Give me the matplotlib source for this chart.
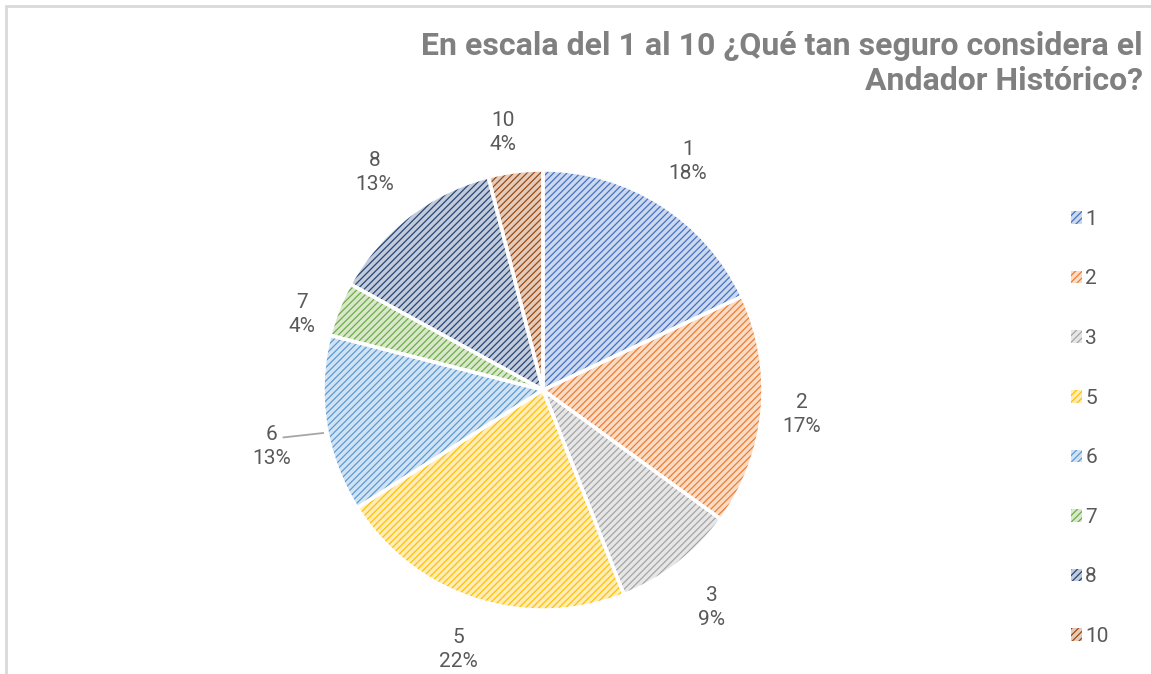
import numpy as np
import matplotlib.pyplot as plt
from matplotlib.patches import Patch, Rectangle

# datos
categories = ["1", "2", "3", "5", "6", "7", "8", "10"]
percents = [18, 17, 9, 22, 13, 4, 13, 4]
base_colors = ["#4472C4", "#ED7D31", "#A5A5A5", "#FFC000",
               "#5B9BD5", "#70AD47", "#264478", "#9E480E"]
title = "En escala del 1 al 10 ¿Qué tan seguro considera el\nAndador Histórico?"


def lighten(hex_color, amount=0.72):
    c = np.array([int(hex_color[i:i + 2], 16) for i in (1, 3, 5)]) / 255
    return tuple(c + (1 - c) * amount)


plt.rcParams["hatch.linewidth"] = 0.9
fill_colors = [lighten(c) for c in base_colors]
text_color = "#595959"
font = "Roboto"

W, H = 1151, 674
fig = plt.figure(figsize=(W / 100, H / 100), dpi=100)

# marco del area del grafico
fig.patches.append(Rectangle((6 / W, -0.1), 1.2, 1 - 6 / H + 0.1, transform=fig.transFigure,
                             fill=False, edgecolor="#D9D9D9", linewidth=2))

cx, cy, r = 543, 390, 220
ax = fig.add_axes([(cx - r) / W, (H - cy - r) / H, 2 * r / W, 2 * r / H])

# capa con relleno y trama
wedges, _ = ax.pie(percents, startangle=90, counterclock=False, radius=1,
                   colors=fill_colors, wedgeprops=dict(linewidth=0))
for w, c in zip(wedges, base_colors):
    w.set_hatch("/////")
    w.set_edgecolor(c)
    w.set_linewidth(0)
# bordes blancos encima
ax.pie(percents, startangle=90, counterclock=False, radius=1,
       colors=["none"] * len(percents),
       wedgeprops=dict(linewidth=2.5, edgecolor="white", fill=False))
ax.set_xlim(-1, 1)
ax.set_ylim(-1, 1)
ax.set_aspect("equal")
ax.axis("off")

# etiquetas
label_r = [1.23, 1.18, 1.25, 1.24, 1.25, 1.18, 1.25, 1.2]
label_shift = [0, 0, 0, 0, -0.06, -0.09, 0, -0.02]
label_dx = [0, 0, 0, 0, 0, 0, 0, -0.03]
cum = np.cumsum([0] + percents[:-1])
for i, (cat, p) in enumerate(zip(categories, percents)):
    ang = np.deg2rad(90 - (cum[i] + p / 2) * 3.6)
    x = label_r[i] * np.cos(ang) + label_dx[i]
    y = label_r[i] * np.sin(ang) + label_shift[i]
    ax.text(x, y, f"{cat}\n{p}%", ha="center", va="center", fontsize=15,
            color=text_color, family=font, linespacing=1.35, clip_on=False)
    if cat == "6":
        ax.plot([x + 0.055, x + 0.235], [y + 0.04, y + 0.06],
                color="#A6A6A6", linewidth=1.3, clip_on=False)

# titulo
fig.text(1143 / W, 1 - 31 / H, title, ha="right", va="top", fontsize=23,
         fontweight="bold", color="#808080", family=font, linespacing=1.2)

# leyenda
handles = [Patch(facecolor=f, edgecolor=c, hatch="/////", linewidth=0)
           for f, c in zip(fill_colors, base_colors)]
leg = fig.legend(handles, categories, loc="upper left", bbox_to_anchor=(1052 / W, 1 - 191 / H),
                 frameon=False, handlelength=0.55, handleheight=0.55,
                 handletextpad=0.15, labelspacing=1.95, prop=dict(family=font, size=15))
for t in leg.get_texts():
    t.set_color(text_color)

fig.savefig("out.png", dpi=100)
